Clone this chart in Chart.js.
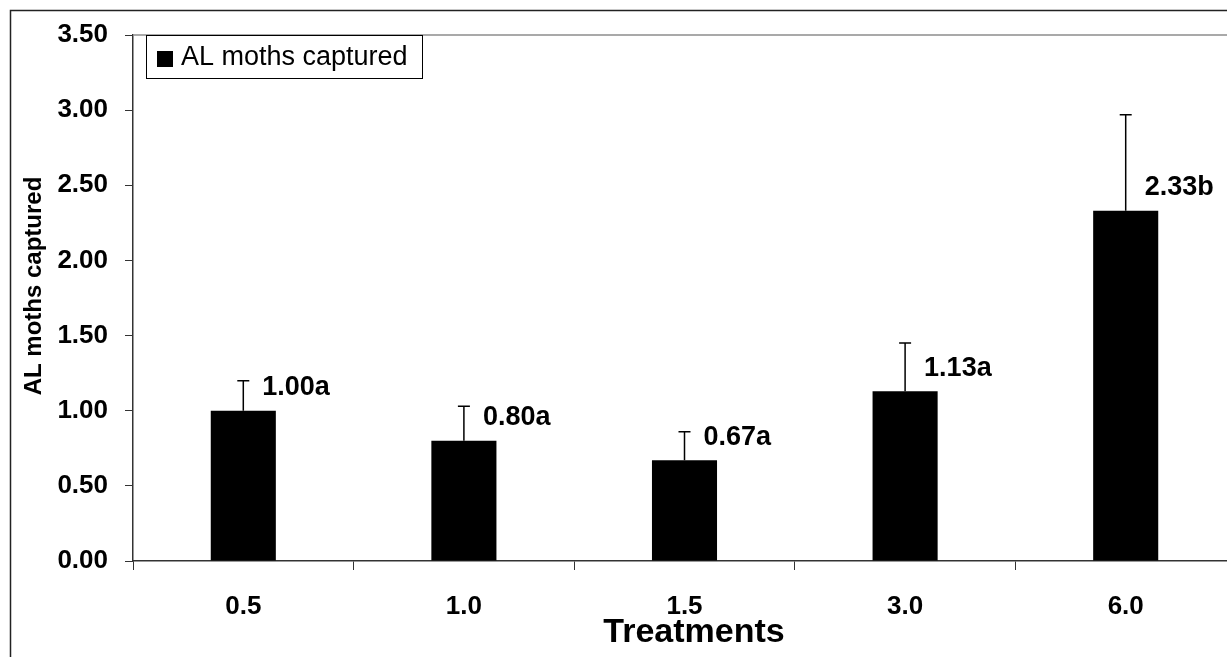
<!DOCTYPE html>
<html>
<head>
<meta charset="utf-8">
<script src="https://cdn.jsdelivr.net/npm/chart.js@4"></script>
<style>
    html, body { margin: 0; padding: 0; background: #fff; overflow: hidden; }
    #wrap { width: 1240px; height: 657px; }
</style>
</head>
<body>
<div id="wrap"><canvas id="barChart" width="1240" height="657"></canvas></div>
<script>
// chart values
const treatments = ["0.5", "1.0", "1.5", "3.0", "6.0"];
const mothsCaptured = [1.00, 0.80, 0.67, 1.13, 2.33];
const errorUp = [0.20, 0.23, 0.19, 0.32, 0.64];  // upper error bar length
const letters = ["a", "a", "a", "a", "b"];
const yTicks = [0, 0.5, 1.0, 1.5, 2.0, 2.5, 3.0, 3.5];

const FONT = "Arial, 'Liberation Sans', sans-serif";

// white background + outer frame + top plot border
const framePlugin = {
    id: "frame",
    beforeDraw(chart) {
        const c = chart.ctx;
        c.save();
        c.fillStyle = "#fff";
        c.fillRect(0, 0, chart.width, chart.height);
        c.strokeStyle = "#222";
        c.lineWidth = 1.5;
        c.strokeRect(10.5, 10.5, 1400, 800);
        c.restore();
    },
    afterDraw(chart) {
        const c = chart.ctx;
        const a = chart.chartArea;
        c.save();
        c.strokeStyle = "#8c8c8c";
        c.lineWidth = 1.5;
        c.beginPath();
        c.moveTo(a.left, a.top);
        c.lineTo(chart.width, a.top);
        c.stroke();
        c.restore();
    }
};

// upward error bars with caps
const errorBarPlugin = {
    id: "errorBars",
    afterDatasetsDraw(chart) {
        const c = chart.ctx;
        const y = chart.scales.y;
        const meta = chart.getDatasetMeta(0);
        c.save();
        c.strokeStyle = "#000";
        c.lineWidth = 1.5;
        meta.data.forEach((bar, i) => {
            const top = y.getPixelForValue(mothsCaptured[i] + errorUp[i]);
            c.beginPath();
            c.moveTo(bar.x, bar.y);
            c.lineTo(bar.x, top);
            c.moveTo(bar.x - 6, top);
            c.lineTo(bar.x + 6, top);
            c.stroke();
        });
        c.restore();
    }
};

// value + letter labels beside each bar
const valueLabelPlugin = {
    id: "valueLabels",
    afterDatasetsDraw(chart) {
        const c = chart.ctx;
        const meta = chart.getDatasetMeta(0);
        c.save();
        c.fillStyle = "#000";
        c.font = "bold 27px " + FONT;
        c.textAlign = "left";
        c.textBaseline = "middle";
        meta.data.forEach((bar, i) => {
            c.fillText(mothsCaptured[i].toFixed(2) + letters[i], bar.x + 19, bar.y - 23);
        });
        c.restore();
    }
};

// boxed legend in upper left of the plot, and axis titles
const legendTitlesPlugin = {
    id: "legendTitles",
    afterDraw(chart) {
        const c = chart.ctx;
        const a = chart.chartArea;
        c.save();
        // legend box
        c.fillStyle = "#fff";
        c.fillRect(a.left + 13.5, a.top, 276, 43);
        c.strokeStyle = "#000";
        c.lineWidth = 1;
        c.strokeRect(a.left + 13.5, a.top + 0.5, 276, 43);
        c.fillStyle = "#000";
        c.fillRect(a.left + 24, a.top + 16, 16, 16);
        c.font = "27px " + FONT;
        c.textAlign = "left";
        c.textBaseline = "middle";
        c.fillText(chart.data.datasets[0].label, a.left + 48, a.top + 23);

        // y title
        c.font = "bold 24px " + FONT;
        c.textAlign = "center";
        c.translate(34, 286);
        c.rotate(-Math.PI / 2);
        c.fillText("AL moths captured", 0, 0);
        c.setTransform(1, 0, 0, 1, 0, 0);

        // x title
        c.font = "bold 34px " + FONT;
        c.fillText("Treatments", 694, 633);
        c.restore();
    }
};

const ctx = document.getElementById("barChart").getContext("2d");
new Chart(ctx, {
    type: "bar",
    data: {
        labels: treatments,
        datasets: [{
            label: "AL moths captured",
            data: mothsCaptured,
            backgroundColor: "#000",
            borderWidth: 0,
            categoryPercentage: 1.0,
            barPercentage: 0.295
        }]
    },
    options: {
        responsive: false,
        animation: false,
        devicePixelRatio: 1,
        layout: { padding: { left: 0, right: 4, top: 35, bottom: 0 } },
        plugins: {
            legend: { display: false },
            tooltip: { enabled: false }
        },
        scales: {
            x: {
                offset: true,
                grid: {
                    offset: true,
                    drawOnChartArea: false,
                    tickLength: 9,
                    color: "#333"
                },
                border: { color: "#333", width: 1.5 },
                ticks: {
                    color: "#000",
                    padding: 21,
                    font: { family: FONT, size: 26, weight: "bold" }
                },
                afterFit(scale) { scale.height = 96; }
            },
            y: {
                min: 0,
                max: 3.5,
                afterBuildTicks(scale) {
                    scale.ticks = yTicks.map(v => ({ value: v }));
                },
                grid: {
                    drawOnChartArea: false,
                    tickLength: 8,
                    color: "#333"
                },
                border: { color: "#333", width: 1.5 },
                ticks: {
                    color: "#000",
                    padding: 17,
                    font: { family: FONT, size: 26, weight: "bold" },
                    callback: v => Number(v).toFixed(2)
                },
                afterFit(scale) { scale.width = 133; }
            }
        }
    },
    plugins: [framePlugin, errorBarPlugin, valueLabelPlugin, legendTitlesPlugin]
});
</script>
</body>
</html>
